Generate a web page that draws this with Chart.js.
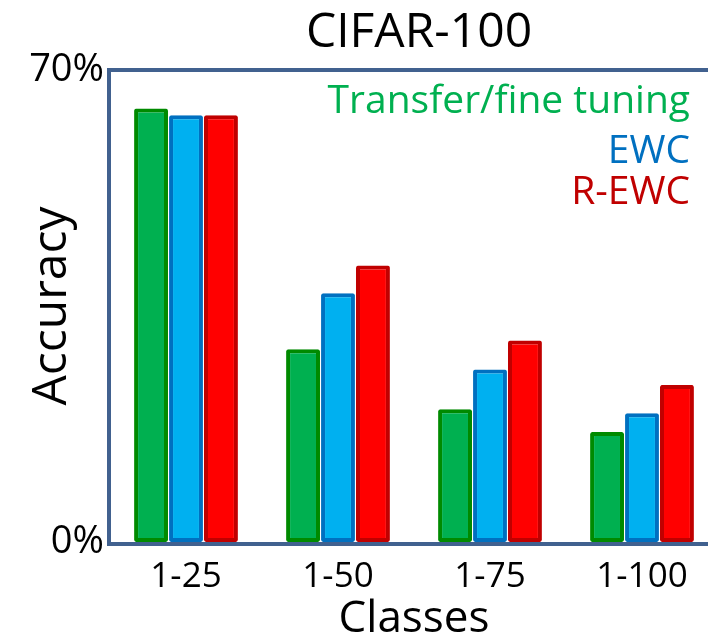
<!DOCTYPE html>
<html>
<head>
<meta charset="utf-8">
<script src="https://cdn.jsdelivr.net/npm/chart.js@4"></script>
<style>
  html, body { margin: 0; padding: 0; background: #fff; overflow: hidden; }
  #wrap { width: 718px; height: 638px; }
</style>
</head>
<body>
<div id="wrap"><canvas id="chart" width="718" height="638"></canvas></div>
<script>
// data (percent)
const categories = ["1-25", "1-50", "1-75", "1-100"];
const seriesNames = ["Transfer/fine tuning", "EWC", "R-EWC"];
const transferValues = [64.3, 28.6, 19.7, 16.3];
const ewcValues = [63.3, 36.9, 25.6, 19.1];
const rewcValues = [63.3, 41.0, 29.9, 23.3];
const yTicks = [0, 70];
const chartTitle = "CIFAR-100";

const FONT = "'Open Sans', 'DejaVu Sans', sans-serif";
const frameColor = "#41618f";

// draws the title, the box round the plot and the coloured names in the top right
const framePlugin = {
  id: "frame",
  afterDatasetsDraw(chart) {
    const { ctx, chartArea } = chart;
    ctx.save();
    ctx.strokeStyle = frameColor;
    ctx.lineWidth = 4;
    ctx.strokeRect(chartArea.left - 1, chartArea.top, chartArea.right - chartArea.left + 2, chartArea.bottom - chartArea.top + 2);

    ctx.textAlign = "center";
    ctx.textBaseline = "middle";
    ctx.fillStyle = "#000";
    ctx.font = "48px " + FONT;
    ctx.fillText(chartTitle, 419, 33);

    ctx.textAlign = "right";
    ctx.font = "39px " + FONT;
    const ys = [102, 152, 193];
    chart.data.datasets.forEach((ds, i) => {
      ctx.fillStyle = ds.textColor;
      ctx.fillText(ds.label, 690, ys[i]);
    });
    ctx.restore();
  }
};

const ctx = document.getElementById("chart").getContext("2d");

new Chart(ctx, {
  type: "bar",
  data: {
    labels: categories,
    datasets: [
      {
        label: seriesNames[0],
        data: transferValues,
        backgroundColor: "#00b050",
        borderColor: "#008a00",
        textColor: "#00b050",
        borderWidth: 4,
        borderRadius: 2,
        borderSkipped: false
      },
      {
        label: seriesNames[1],
        data: ewcValues,
        backgroundColor: "#00b0f0",
        borderColor: "#0070c0",
        textColor: "#0070c0",
        borderWidth: 4,
        borderRadius: 2,
        borderSkipped: false
      },
      {
        label: seriesNames[2],
        data: rewcValues,
        backgroundColor: "#ff0000",
        borderColor: "#c00000",
        textColor: "#c00000",
        borderWidth: 4,
        borderRadius: 2,
        borderSkipped: false
      }
    ]
  },
  options: {
    responsive: false,
    animation: false,
    devicePixelRatio: 1,
    layout: { padding: { left: 24, right: 0, top: 70, bottom: 0 } },
    datasets: {
      bar: { categoryPercentage: 0.69, barPercentage: 0.97 }
    },
    plugins: {
      legend: { display: false },
      tooltip: { enabled: false },
      title: { display: false }
    },
    scales: {
      x: {
        grid: { display: false, drawTicks: false },
        border: { display: false },
        ticks: {
          color: "#000",
          font: { family: FONT, size: 35 },
          padding: 14
        },
        title: {
          display: true,
          text: "Classes",
          color: "#000",
          font: { family: FONT, size: 44 },
          padding: { top: 0, bottom: -8 }
        },
        afterFit(scale) { scale.height = 96; }
      },
      y: {
        min: 0,
        max: 70,
        grid: { display: false, drawTicks: false },
        border: { display: false },
        afterBuildTicks(scale) {
          scale.ticks = yTicks.map(v => ({ value: v }));
        },
        ticks: {
          color: "#000",
          font: { family: FONT, size: 38 },
          padding: 6,
          callback: v => v + "%"
        },
        title: {
          display: true,
          text: "Accuracy",
          color: "#000",
          font: { family: FONT, size: 48 },
          padding: { top: 0, bottom: 0 }
        },
        afterFit(scale) { scale.width = 86; }
      }
    }
  },
  plugins: [framePlugin]
});
</script>
</body>
</html>
